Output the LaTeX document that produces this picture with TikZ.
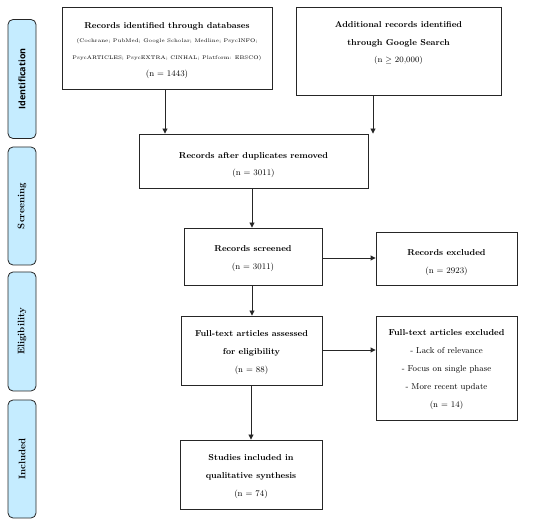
\documentclass[tikz,border=0pt]{standalone}
\usepackage{fontspec}
\newfontfamily\barsans{Open Sans}
\usetikzlibrary{arrows.meta}
\definecolor{barblue}{HTML}{C5ECFF}
\begin{document}
\begin{tikzpicture}[x=1pt,y=-1pt,
  box/.style={draw=black!85, line width=0.9pt, inner sep=0pt},
  txt/.style={align=center, inner sep=0pt, font=\fontsize{8.6}{18}\selectfont},
  bar/.style={draw=black!85, fill=barblue, line width=0.8pt, rounded corners=5pt, inner sep=0pt, minimum width=28pt},
  bartxt/.style={rotate=90, inner sep=0pt, font=\fontsize{9.5}{10}\selectfont\bfseries},
  arr/.style={-{Triangle[length=5pt,width=5pt]}, line width=0.9pt, draw=black!85}]
\useasboundingbox (0,0) rectangle (550,524);
% phase bars
\node[bar, minimum height=119pt] (p1) at (22,79) {};
\node[bar, minimum height=118pt] (p2) at (22,206) {};
\node[bar, minimum height=119pt] (p3) at (22,331.5) {};
\node[bar, minimum height=118pt] (p4) at (22,459) {};
\node[bartxt, font=\fontsize{9}{10}\selectfont\barsans\bfseries] (l1) at (p1) {Identification};
\node[bartxt] (l2) at (p2) {Screening};
\node[bartxt] (l3) at (p3) {Eligibility};
\node[bartxt] (l4) at (p4) {Included};
% boxes
\node[box, minimum width=210pt, minimum height=82pt] (b1) at (167,48) {};
\node[box, minimum width=205pt, minimum height=88pt] (b2) at (398.5,51) {};
\node[box, minimum width=229pt, minimum height=54pt] (b3) at (253.5,161) {};
\node[box, minimum width=138pt, minimum height=57pt] (b4) at (253,256.5) {};
\node[box, minimum width=141pt, minimum height=53pt] (b5) at (446.5,258.5) {};
\node[box, minimum width=141pt, minimum height=69pt] (b6) at (251.5,350.5) {};
\node[box, minimum width=141pt, minimum height=104pt] (b7) at (446.5,368) {};
\node[box, minimum width=142pt, minimum height=69pt] (b8) at (251,474.5) {};
% texts
\node[txt, anchor=north] (t1) at (167,22) {\textbf{Records identified through databases}\\[-4pt]
  {\fontsize{5.2}{18}\selectfont (Cochrane; PubMed; Google Scholar; Medline; PsycINFO;}\\[-1pt]
  {\fontsize{5.2}{18}\selectfont PsycARTICLES; PsycEXTRA; CINHAL; Platform: EBSCO)}\\[-1pt]
  (n = 1443)};
\node[txt, anchor=north] (t2) at (398.5,21) {\textbf{Additional records identified}\\\textbf{through Google Search}\\[-1pt]
  {\fontsize{8.3}{18}\selectfont(n $\geq$ 20,000)}};
\node[txt] (t3) at (253.5,165.5) {\textbf{Records after duplicates removed}\\[-1pt](n = 3011)};
\node[txt] (t4) at (253,259) {\textbf{Records screened}\\(n = 3011)};
\node[txt] (t5) at (446.5,262.5) {\textbf{Records excluded}\\(n = 2923)};
\node[txt] (t6) at (251.5,352.5) {\textbf{Full-text articles assessed}\\\textbf{for eligibility}\\(n = 88)};
\node[txt] (t7) at (446.5,370) {\textbf{Full-text articles excluded}\\- Lack of relevance\\- Focus on single phase\\- More recent update\\(n = 14)};
\node[txt] (t8) at (251,476.5) {\textbf{Studies included in}\\\textbf{qualitative synthesis}\\(n = 74)};
% connectors
\draw[arr] (b1.south -| 165,0) -- (b3.north -| 165,0);
\draw[arr] (b2.south -| 373,0) -- (b3.north -| 373,0);
\draw[arr] (b3.south -| 252,0) -- (b4.north -| 252,0);
\draw[arr] (b4.east |- 0,258) -- (b5.west |- 0,258);
\draw[arr] (b4.south -| 252,0) -- (b6.north -| 252,0);
\draw[arr] (b6.east |- 0,350) -- (b7.west |- 0,350);
\draw[arr] (b6.south -| 251,0) -- (b8.north -| 251,0);
\end{tikzpicture}
\end{document}
